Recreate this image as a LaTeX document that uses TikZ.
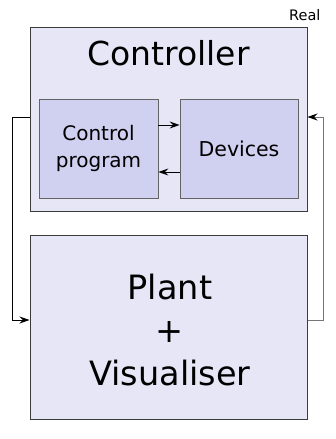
\documentclass[tikz,border=0pt]{standalone}
\usepackage{fontspec}
\setmainfont{DejaVu Sans}
\usetikzlibrary{arrows.meta}
\definecolor{outerfill}{RGB}{230,230,246}
\definecolor{innerfill}{RGB}{208,208,240}
\definecolor{edge}{RGB}{60,60,60}
\tikzset{
  outerbox/.style={draw=edge, fill=outerfill, line width=1pt, inner sep=0pt},
  innerbox/.style={draw=edge!80, fill=innerfill, line width=0.8pt, inner sep=0pt},
  link/.style={line width=0.9pt, -{Stealth[length=10pt,width=7pt,inset=3.5pt,color=black]}},
}
\begin{document}
\begin{tikzpicture}[x=1pt,y=-1pt]
\useasboundingbox (0,0) rectangle (335,439);
% containers
\node[outerbox, minimum width=277pt, minimum height=184pt] (ctrl) at (168.5,119) {};
\node[outerbox, minimum width=277pt, minimum height=184pt] (plant) at (168.5,327) {};
% components inside the controller
\node[innerbox, minimum width=119pt, minimum height=99pt] (prog) at (98.5,148.5) {};
\node[innerbox, minimum width=118pt, minimum height=99pt] (dev) at (239,148.5) {};
% labels
\node[font=\fontsize{33}{33}\selectfont, anchor=base] (ctrllab) at (168.5,65) {Controller};
\node[font=\fontsize{20}{27}\selectfont, align=center] (proglab) at (prog.center) {Control\\program};
\node[font=\fontsize{20.5}{24}\selectfont] (devlab) at (dev.center) {Devices};
\node[font=\fontsize{33.5}{43}\selectfont, align=center] (plantlab) at (170,330) {Plant\\+\\Visualiser};
\node[font=\fontsize{14.5}{16}\selectfont, anchor=base east] (real) at (324,20) {Real};
% internal links
\coordinate (p1) at (prog.east |- 0,125);
\coordinate (d1) at (dev.west |- 0,125);
\coordinate (p2) at (prog.east |- 0,172);
\coordinate (d2) at (dev.west |- 0,172);
\draw[link] (p1) -- (d1);
\draw[link] (d2) -- (p2);
% loop between controller and plant
\coordinate (cl) at (ctrl.west |- 0,117);
\coordinate (pl) at (plant.west |- 0,320);
\coordinate (cr) at (ctrl.east |- 0,117);
\coordinate (pr) at (plant.east |- 0,320);
\draw[link] (cl) -- (12,117) -- (12,320) -- (pl);
\draw[link, draw=edge!70] (pr) -- (323,320) -- (323,117) -- (cr);
\end{tikzpicture}
\end{document}
